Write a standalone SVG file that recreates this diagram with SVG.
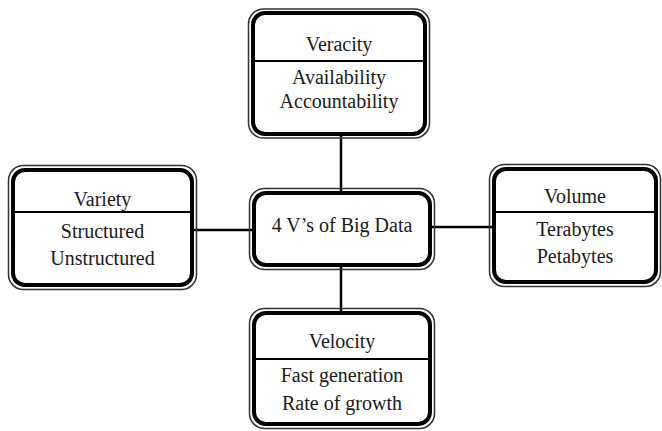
<svg xmlns="http://www.w3.org/2000/svg" width="662" height="431" viewBox="0 0 662 431">
<style>
.outer{fill:none;stroke:#333;stroke-width:1.5}
.inner{fill:#fff;stroke:#000;stroke-width:4}
.div{stroke:#000;stroke-width:2}
.con{stroke:#000;stroke-width:2.5;fill:none}
text{font-family:"Liberation Serif","Times New Roman",serif;font-size:20px;fill:#1a1a1a;text-anchor:middle}
</style>
<rect width="662" height="431" fill="#fff"/>
<g id="connectors">
<line class="con" x1="341" y1="134" x2="341" y2="193"/>
<line class="con" x1="341" y1="265" x2="341" y2="313"/>
<line class="con" x1="192" y1="230" x2="254" y2="230"/>
<line class="con" x1="430" y1="227" x2="494" y2="227"/>
</g>
<g id="veracity">
<rect class="outer" x="248.5" y="9" width="181" height="129" rx="15"/>
<rect class="inner" x="253" y="13" width="172" height="121" rx="12"/>
<line class="div" x1="253" y1="61" x2="425" y2="61"/>
<text x="339" y="51">Veracity</text>
<text x="339" y="84">Availability</text>
<text x="339" y="108">Accountability</text>
</g>
<g id="variety">
<rect class="outer" x="8.5" y="165.5" width="188" height="124" rx="15"/>
<rect class="inner" x="13" y="170" width="179" height="115" rx="12"/>
<line class="div" x1="13" y1="212" x2="192" y2="212"/>
<text x="102.5" y="206">Variety</text>
<text x="102.5" y="238">Structured</text>
<text x="102.5" y="265">Unstructured</text>
</g>
<g id="center">
<rect class="outer" x="249.5" y="188.5" width="185" height="81" rx="15"/>
<rect class="inner" x="254" y="193" width="176" height="72" rx="12"/>
<text x="342" y="232">4 V’s of Big Data</text>
</g>
<g id="volume">
<rect class="outer" x="489.5" y="164.5" width="171" height="122" rx="15"/>
<rect class="inner" x="494" y="169" width="162" height="113" rx="12"/>
<line class="div" x1="494" y1="212" x2="656" y2="212"/>
<text x="575" y="203">Volume</text>
<text x="575" y="236">Terabytes</text>
<text x="575" y="263">Petabytes</text>
</g>
<g id="velocity">
<rect class="outer" x="249.5" y="308.5" width="185" height="120" rx="15"/>
<rect class="inner" x="254" y="313" width="176" height="111" rx="12"/>
<line class="div" x1="254" y1="359" x2="430" y2="359"/>
<text x="342" y="348">Velocity</text>
<text x="342" y="382">Fast generation</text>
<text x="342" y="410">Rate of growth</text>
</g>
</svg>
